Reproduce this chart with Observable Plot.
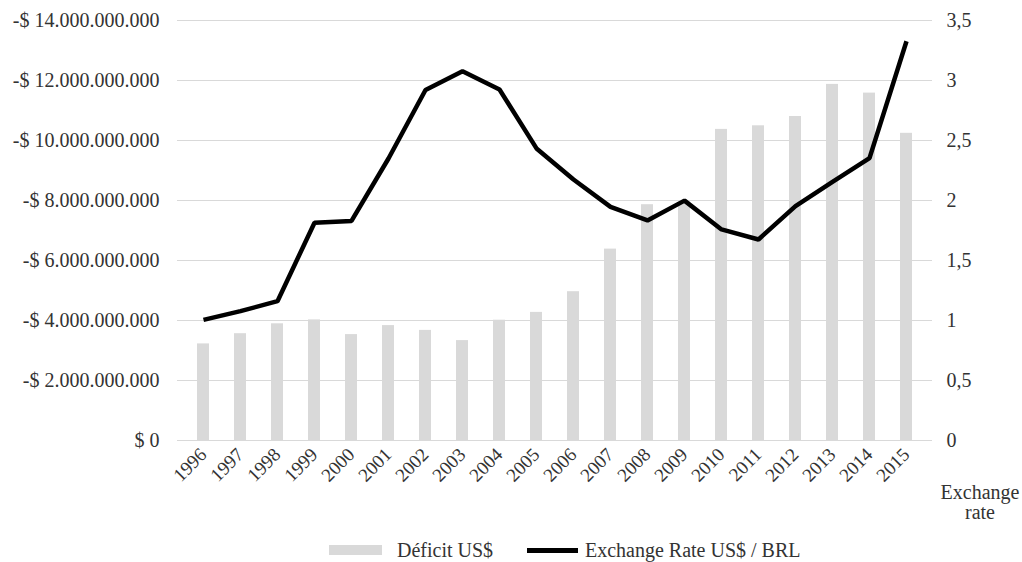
<!DOCTYPE html>
<html>
<head>
<meta charset="utf-8">
<script src="https://cdn.jsdelivr.net/npm/d3@7"></script>
<script src="https://cdn.jsdelivr.net/npm/@observablehq/plot@0.6"></script>
<style>
  body { margin: 0; background: #fff; overflow: hidden; }
  #wrap { position: relative; width: 1022px; height: 562px; overflow: hidden; font-family: "Liberation Serif", "DejaVu Serif", serif; color: #333; }
  #legend { position: absolute; left: 0; top: 540px; width: 1022px; height: 20px; font-size: 20px; line-height: 20px; }
  .sw { position: absolute; }
  .lt { position: absolute; top: 0; white-space: nowrap; }
  #xrate { position: absolute; left: 938px; top: 482px; width: 84px; text-align: center; font-size: 20px; line-height: 20px; white-space: nowrap; }
</style>
</head>
<body>
<div id="wrap">
  <div id="chart"></div>
  <div id="xrate">Exchange<br>rate</div>
  <div id="legend">
    <div class="sw" style="left:329px; top:5px; width:53px; height:10px; background:#d9d9d9"></div>
    <div class="lt" style="left:397px">Déficit US$</div>
    <div class="sw" style="left:527px; top:8px; width:51px; height:5px; background:#000"></div>
    <div class="lt" style="left:585px">Exchange Rate US$ / BRL</div>
  </div>
</div>
<script>
const years = ["1996","1997","1998","1999","2000","2001","2002","2003","2004","2005","2006","2007","2008","2009","2010","2011","2012","2013","2014","2015"];
const deficit = [3.22e9,3.56e9,3.89e9,4.02e9,3.53e9,3.83e9,3.67e9,3.33e9,4.01e9,4.27e9,4.96e9,6.38e9,7.86e9,7.95e9,10.37e9,10.49e9,10.80e9,11.87e9,11.58e9,10.24e9];
const rate = [1.005,1.078,1.161,1.815,1.830,2.350,2.921,3.077,2.925,2.434,2.175,1.947,1.834,1.999,1.759,1.675,1.953,2.156,2.353,3.327];
const leftTicks = [0,2e9,4e9,6e9,8e9,10e9,12e9,14e9];
const rightTicks = [0,0.5,1,1.5,2,2.5,3,3.5];

const k = 14e9 / 3.5; // right axis -> left axis scale factor
const data = years.map((y, i) => ({year: y, deficit: deficit[i], rate: rate[i]}));

const loc = d3.formatLocale({decimal: ",", thousands: ".", grouping: [3], currency: ["$", ""]});
const fmtInt = loc.format(",d");
const fmtDec = loc.format(",.1~f");

const chart = Plot.plot({
  width: 1022,
  height: 540,
  marginTop: 20,
  marginBottom: 100,
  marginLeft: 177,
  marginRight: 90,
  style: {fontFamily: '"Liberation Serif", "DejaVu Serif", serif', fontSize: "20px", color: "#333", background: "#fff", overflow: "visible"},
  x: {domain: years, paddingInner: 0.68, paddingOuter: 0.34, label: null},
  y: {domain: [0, 14e9], label: null},
  marks: [
    Plot.gridY(leftTicks, {stroke: "#d9d9d9", strokeOpacity: 1, strokeWidth: 1}),
    Plot.barY(data, {x: "year", y: "deficit", fill: "#d9d9d9"}),
    Plot.line(data, {x: "year", y: d => d.rate * k, stroke: "#000", strokeWidth: 4.5, strokeLinejoin: "miter", strokeLinecap: "butt"}),
    Plot.axisY(leftTicks, {anchor: "left", tickSize: 0, tickPadding: 18, label: null,
      tickFormat: d => d === 0 ? "$ 0" : "-$ " + fmtInt(d), fill: "#333"}),
    Plot.axisY(rightTicks.map(v => v * k), {anchor: "right", tickSize: 0, tickPadding: 14, label: null,
      tickFormat: d => fmtDec(d / k), fill: "#333"}),
    Plot.axisX({tickSize: 0, tickPadding: 11, tickRotate: -45, label: null, fill: "#333", fontSize: 19})
  ]
});
document.getElementById("chart").appendChild(chart);
</script>
</body>
</html>
